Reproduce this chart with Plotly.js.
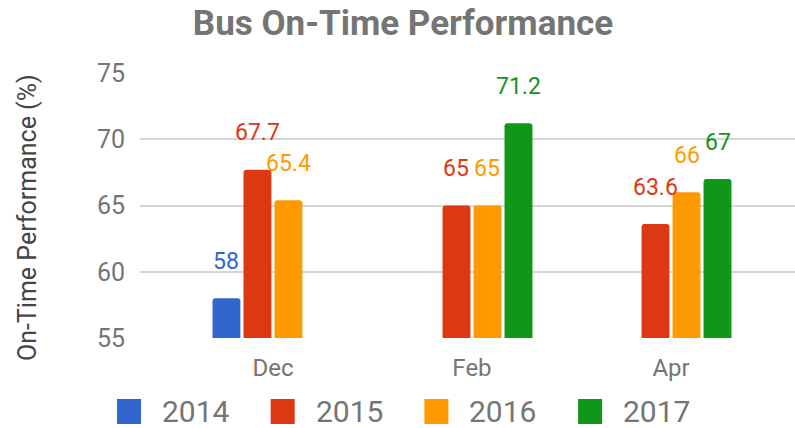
<!DOCTYPE html>
<html>
<head>
<meta charset="utf-8">
<script src="https://cdn.plot.ly/plotly-3.0.1.min.js"></script>
<style>html,body{margin:0;padding:0;background:#fff;}#chart{width:795px;height:428px;}</style>
</head>
<body>
<div id="chart"></div>
<script>
var categories = ["Dec", "Feb", "Apr"];
var seriesNames = ["2014", "2015", "2016", "2017"];
var values2014 = [58, null, null];
var values2015 = [67.7, 65, 63.6];
var values2016 = [65.4, 65, 66];
var values2017 = [null, 71.2, 67];
var yTicks = [55, 60, 65, 70, 75];

var seriesValues = [values2014, values2015, values2016, values2017];
var colors = ["#3366cc", "#dc3912", "#ff9900", "#109618"];

var W = 795, H = 428;
var M = {l: 140, r: 0, t: 73, b: 90};
var plotW = W - M.l - M.r, plotH = H - M.t - M.b;
function px(x) { return (x - M.l) / plotW; }
function py(y) { return (H - M.b - y) / plotH; }

var bargap = 0.377, bargroupgap = 0.1;
var xRange = [-0.668, 2.623];
var pxPerCat = plotW / (xRange[1] - xRange[0]);
var slot = (1 - bargap) / seriesNames.length * pxPerCat;

var traces = seriesNames.map(function (name, i) {
  return {
    type: "bar",
    name: name,
    x: categories,
    y: seriesValues[i],
    marker: {color: colors[i], cornerradius: 3},
    hoverinfo: "x+y+name",
    showlegend: false
  };
});

var annotations = [];
seriesNames.forEach(function (name, i) {
  seriesValues[i].forEach(function (v, j) {
    if (v === null) return;
    annotations.push({
      x: categories[j], y: v, xref: "x", yref: "y",
      text: String(v), showarrow: false,
      xshift: (i - (seriesNames.length - 1) / 2) * slot,
      yshift: 37, yanchor: "middle", xanchor: "center",
      font: {family: "Roboto", size: 23, color: colors[i]}
    });
  });
});

// y-axis title
annotations.push({
  xref: "paper", yref: "paper", x: px(27), y: py(218),
  text: "On-Time Performance (%)", showarrow: false, textangle: -90,
  xanchor: "center", yanchor: "middle",
  font: {family: "Roboto", size: 25, color: "#444444"}
});

// custom legend
var shapes = [];
var legStart = 117, legStep = 153.7, legY = 411;
seriesNames.forEach(function (name, i) {
  var x0 = legStart + i * legStep;
  shapes.push({
    type: "rect", xref: "paper", yref: "paper",
    x0: px(x0), x1: px(x0 + 24), y0: py(legY + 13), y1: py(legY - 12),
    fillcolor: colors[i], line: {width: 0}, layer: "above"
  });
  annotations.push({
    xref: "paper", yref: "paper", x: px(x0 + 44), y: py(legY),
    text: name, showarrow: false, xanchor: "left", yanchor: "middle",
    borderpad: 0,
    font: {family: "Roboto", size: 30, color: "#757575"}
  });
});

var layout = {
  width: W, height: H,
  margin: M,
  paper_bgcolor: "#ffffff", plot_bgcolor: "#ffffff",
  barmode: "group", bargap: bargap, bargroupgap: bargroupgap,
  showlegend: false,
  title: {
    text: "<b>Bus On-Time Performance</b>",
    x: 403 / W, xref: "container", xanchor: "center",
    y: 1 - 23 / H, yref: "container", yanchor: "middle",
    font: {family: "Roboto", size: 35, color: "#757575"}
  },
  xaxis: {
    type: "category", range: xRange,
    showgrid: false, zeroline: false, showline: false,
    ticks: "", ticklabelstandoff: 13,
    tickfont: {family: "Roboto", size: 24, color: "#757575"},
    fixedrange: true
  },
  yaxis: {
    range: [55, 75], tickvals: yTicks, ticktext: yTicks.map(String),
    showgrid: true, gridcolor: "#d6d6d6", gridwidth: 2,
    zeroline: false, showline: false, ticks: "",
    ticklabelstandoff: 14,
    tickfont: {family: "Roboto", size: 25, color: "#757575"},
    fixedrange: true
  },
  annotations: annotations,
  shapes: shapes
};

Plotly.newPlot("chart", traces, layout, {displayModeBar: false, staticPlot: true});
</script>
</body>
</html>
